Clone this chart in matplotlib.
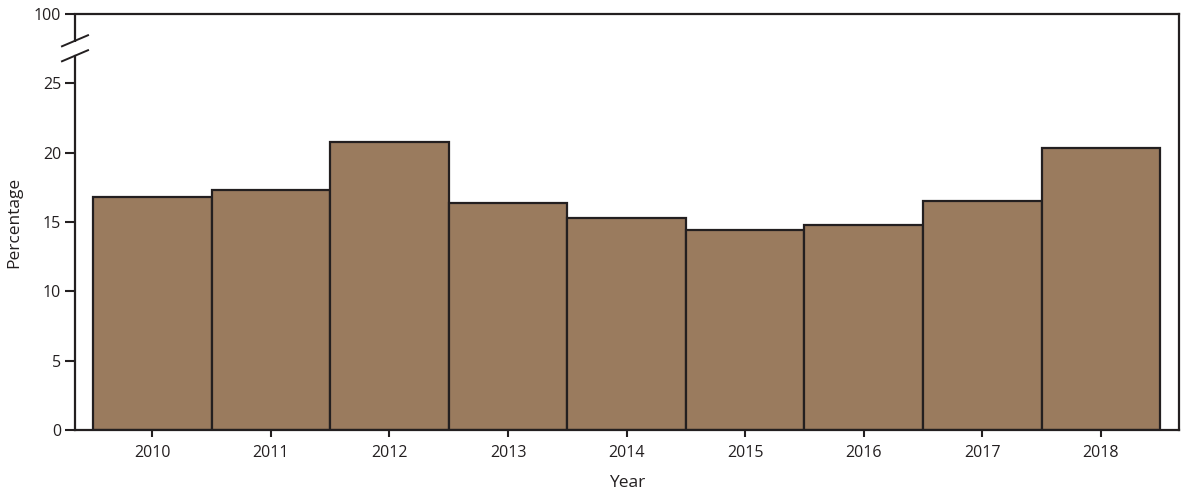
import matplotlib.pyplot as plt
from matplotlib.transforms import blended_transform_factory

years = ["2010", "2011", "2012", "2013", "2014", "2015", "2016", "2017", "2018"]
percentage = [16.8, 17.3, 20.8, 16.4, 15.3, 14.4, 14.8, 16.5, 20.35]

# y value 30 on the axis stands for 100 (broken axis)
ytick_vals = [0, 5, 10, 15, 20, 25, 30]
ytick_labels = ["0", "5", "10", "15", "20", "25", "100"]

bar_color = "#9a7b5e"
edge = "#231f20"

plt.rcParams['font.family'] = ['Open Sans', 'DejaVu Sans']

fig = plt.figure(figsize=(11.85, 4.98), dpi=100)
ax = fig.add_axes([0.0633, 0.1365, 0.9317, 0.8354])

x = list(range(len(years)))
ax.bar(x, percentage, width=1.0, color=bar_color, edgecolor=edge, linewidth=1.6, zorder=2)

ax.set_xlim(-0.652, 8.66)
ax.set_ylim(0, 30)
ax.set_xticks(x)
ax.set_xticklabels(years, fontsize=11.5, color="#231f20")
ax.set_yticks(ytick_vals)
ax.set_yticklabels(ytick_labels, fontsize=11.5, color="#231f20")
ax.tick_params(axis="x", length=5, width=1.5, color=edge, pad=6)
ax.tick_params(axis="y", length=7, width=1.5, color=edge, pad=3)

for s in ax.spines.values():
    s.set_linewidth(1.6)
    s.set_color(edge)
ax.spines['left'].set_bounds(0, 27.0)

# rest of the left spine above the break, and the two slash marks
tr = blended_transform_factory(ax.transAxes, ax.transData)
ax.plot([0, 0], [28.0, 30], transform=tr, color=edge, lw=1.6, clip_on=False, solid_capstyle="butt")
dx = 0.0118
for yc in (26.99, 28.07):
    ax.plot([-dx, dx], [yc - 0.4, yc + 0.4], transform=tr, color=edge, lw=1.4, clip_on=False)

ax.set_xlabel("Year", fontsize=12.5, color="#231f20", labelpad=10)
ax.set_ylabel("Percentage", fontsize=12.5, color="#231f20", labelpad=8)

fig.savefig("out.png", dpi=100)
